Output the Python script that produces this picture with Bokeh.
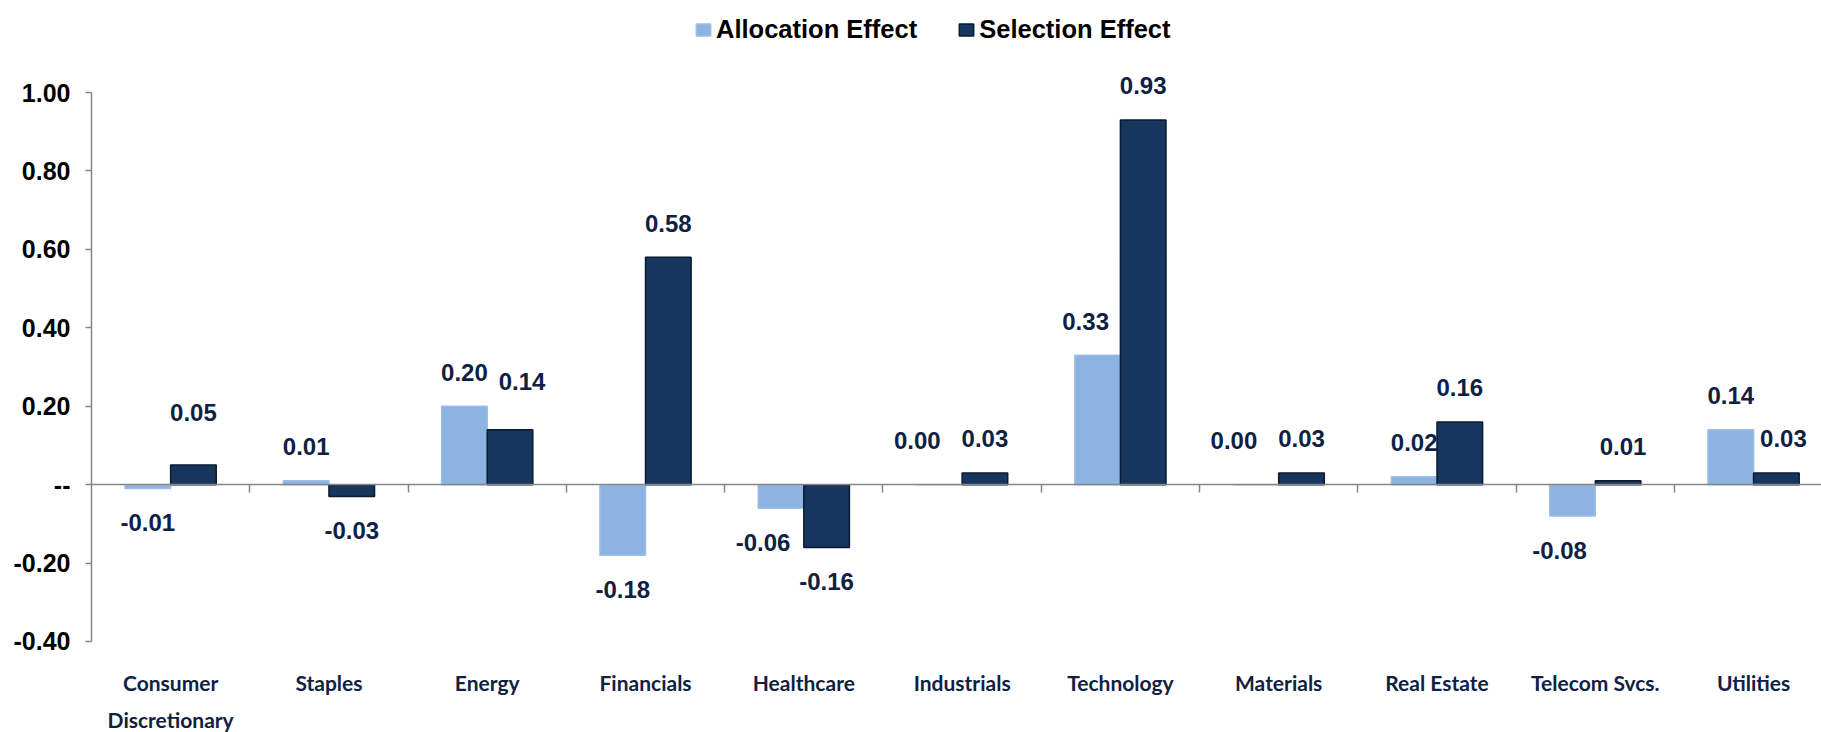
from bokeh.plotting import figure
from bokeh.models import (ColumnDataSource, Range1d, LinearAxis, FixedTicker,
                          NumeralTickFormatter, Legend, LegendItem)
from bokeh.core.properties import value
from bokeh.embed import file_html
from bokeh.resources import INLINE

# ---------------- data ----------------
categories = ["Consumer\nDiscretionary", "Staples", "Energy", "Financials", "Healthcare",
              "Industrials", "Technology", "Materials", "Real Estate", "Telecom Svcs.", "Utilities"]
allocation = [-0.01, 0.01, 0.20, -0.18, -0.06, 0.00, 0.33, 0.00, 0.02, -0.08, 0.14]
selection = [0.05, -0.03, 0.14, 0.58, -0.16, 0.03, 0.93, 0.03, 0.16, 0.01, 0.03]
series_names = ["Allocation Effect", "Selection Effect"]
y_ticks = [-0.40, -0.20, 0.0, 0.20, 0.40, 0.60, 0.80, 1.00]
y_axis_bounds = (-0.40, 1.00)

# ---------------- layout / style ----------------
W, H = 1821, 732
LEFT = 91
PX_PER_UNIT = 392.14
TOP_PX = 92            # px from top down to the 1.00 tick
X_END = 10.929         # visible part of the last category (chart is cropped on the right)
BAR_W = 0.288

NARROW = "Liberation Sans"
CAT_FONT = "Lato"
LIGHT, LIGHT_LINE = "#8db3e2", "#9dbde6"
DARK, DARK_LINE = "#17365d", "#0b1a31"
NAVY_TEXT = "#0f2142"
AXIS_GREY = "#868686"

LABEL_GAP = 34
ZERO_LABEL_GAP = 44
# hand-placed data labels in the original (screen px: dx right, dy up)
label_nudge = {
    ("Selection Effect", 0): (0, 19),
    ("Selection Effect", 2): (12, 14),
    ("Allocation Effect", 4): (-18, 0),
    ("Allocation Effect", 5): (-22, 0),
    ("Allocation Effect", 6): (-12, 0),
    ("Allocation Effect", 7): (-22, 0),
    ("Allocation Effect", 9): (-13, 0),
    ("Selection Effect", 9): (5, 0),
    ("Selection Effect", 10): (7, 0),
}

n = len(categories)
y_end = 1.0 + TOP_PX / PX_PER_UNIT
y_start = 1.0 - (H - TOP_PX) / PX_PER_UNIT

p = figure(width=W, height=H, x_range=Range1d(0, X_END), y_range=Range1d(y_start, y_end),
           output_backend="svg", toolbar_location=None, x_axis_location=None,
           min_border_left=LEFT, min_border_right=0, min_border_top=0, min_border_bottom=0,
           outline_line_color=None, background_fill_color="white", border_fill_color="white")
p.grid.visible = False

# y axis
ya = p.yaxis[0]
ya.ticker = FixedTicker(ticks=y_ticks)
ya.formatter = NumeralTickFormatter(format="0.00")
ya.major_label_overrides = {0: "--"}
ya.bounds = y_axis_bounds
ya.axis_line_color = AXIS_GREY
ya.axis_line_width = 1.5
ya.major_tick_line_color = AXIS_GREY
ya.major_tick_line_width = 1.5
ya.major_tick_out = 6
ya.major_tick_in = 0
ya.minor_tick_line_color = None
ya.major_label_text_font = NARROW
ya.major_label_text_font_style = "bold"
ya.major_label_text_font_size = "25px"
ya.major_label_text_color = "black"
ya.major_label_standoff = 15

# bars
renderers = []
for k, (name, vals, color, lcolor) in enumerate(
        [(series_names[0], allocation, LIGHT, LIGHT_LINE),
         (series_names[1], selection, DARK, DARK_LINE)]):
    shift = (-0.5 + k) * BAR_W
    xs = [i + 0.5 + shift for i in range(n)]
    xo, yo = [], []
    for i, v in enumerate(vals):
        dx, dy = label_nudge.get((name, i), (0, 0))
        if v > 0:
            yo.append(-(LABEL_GAP + dy))
        elif v == 0:
            yo.append(-(ZERO_LABEL_GAP + dy))
        else:
            yo.append(LABEL_GAP - dy)
        xo.append(dx)
    src = ColumnDataSource(dict(x=xs, top=vals, label=[f"{v:.2f}" for v in vals],
                                xo=xo, yo=yo))
    r = p.vbar(x="x", top="top", bottom=0, width=BAR_W, source=src,
               fill_color=color, line_color=lcolor, line_width=1.5)
    renderers.append(r)
    p.text(x="x", y="top", text="label", source=src, x_offset="xo", y_offset="yo",
           text_font=value(NARROW), text_font_style="bold", text_font_size="24px",
           text_color=NAVY_TEXT, text_align="center", text_baseline="middle")

# zero line with category boundary ticks
boundaries = list(range(1, n))
ax0 = LinearAxis(fixed_location=0, ticker=FixedTicker(ticks=boundaries),
                 major_label_overrides={b: "" for b in boundaries},
                 axis_line_color=AXIS_GREY, axis_line_width=1.5,
                 major_tick_line_color=AXIS_GREY, major_tick_line_width=1.5,
                 major_tick_out=8, major_tick_in=0, minor_tick_line_color=None)
p.add_layout(ax0, "below")

# category labels at the bottom
axc = LinearAxis(fixed_location=y_axis_bounds[0],
                 ticker=FixedTicker(ticks=[i + 0.5 for i in range(n)]),
                 major_label_overrides={i + 0.5: c for i, c in enumerate(categories)},
                 axis_line_color=None, major_tick_line_color=None, minor_tick_line_color=None,
                 major_tick_out=0, major_tick_in=0, major_label_standoff=29,
                 major_label_text_font=CAT_FONT, major_label_text_font_style="bold",
                 major_label_text_font_size="21px", major_label_text_color=NAVY_TEXT,
                 major_label_text_line_height=1.46)
p.add_layout(axc, "below")

legend = Legend(items=[LegendItem(label=series_names[0], renderers=[renderers[0]]),
                       LegendItem(label=series_names[1], renderers=[renderers[1]])],
                location=(603, 688), orientation="horizontal",
                glyph_width=18, glyph_height=15, label_standoff=4, spacing=40,
                padding=0, margin=0, border_line_color=None, background_fill_alpha=0,
                label_text_font=NARROW, label_text_font_style="bold",
                label_text_font_size="25.5px", label_text_color="black")
p.add_layout(legend)

open("out.html", "w").write(file_html(p, INLINE))
